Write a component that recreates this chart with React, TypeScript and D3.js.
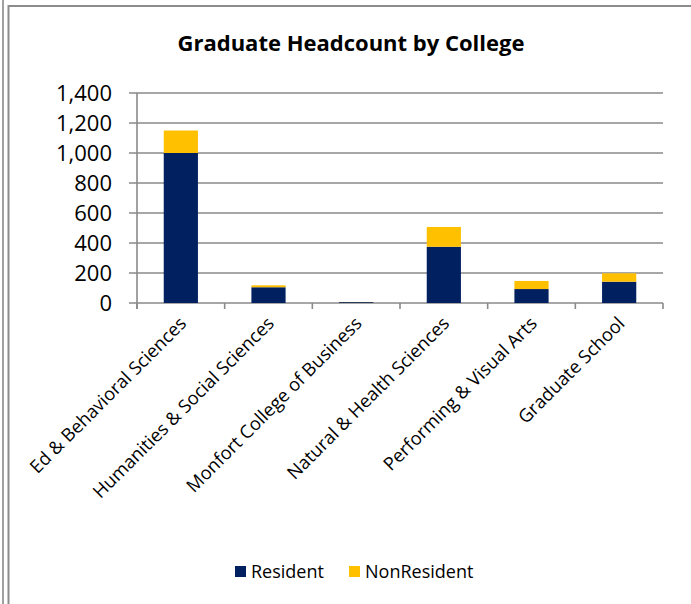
import { useRef, useEffect } from "react"
import * as d3 from "d3"

const colleges = [
  "Ed & Behavioral Sciences",
  "Humanities & Social Sciences",
  "Monfort College of Business",
  "Natural & Health Sciences",
  "Performing & Visual Arts",
  "Graduate School",
]
const resident = [1000, 105, 6, 375, 93, 142]
const nonResident = [150, 13, 1, 132, 54, 56]
const yTicks = [0, 200, 400, 600, 800, 1000, 1200, 1400]
const seriesNames = ["Resident", "NonResident"]
const seriesColors = ["#002060", "#FFC000"]

const W = 691
const H = 604
const FONT = "Open Sans, Liberation Sans, sans-serif"

export default function App() {
  const svgRef = useRef<SVGSVGElement>(null)

  useEffect(() => {
    if (!svgRef.current) return
    const svg = d3.select(svgRef.current)
    svg.selectAll("*").remove()

    // frame
    svg.append("rect").attr("width", W).attr("height", H).attr("fill", "#fff")
    svg.append("line").attr("x1", 3).attr("x2", 3).attr("y1", 0).attr("y2", H)
      .attr("stroke", "#a0a0a0").attr("stroke-width", 2)
    svg.append("line").attr("x1", 8.5).attr("x2", 8.5).attr("y1", 5).attr("y2", H)
      .attr("stroke", "#8c8c8c").attr("stroke-width", 2)
    svg.append("line").attr("x1", 8).attr("x2", W).attr("y1", 6).attr("y2", 6)
      .attr("stroke", "#8c8c8c").attr("stroke-width", 2)

    const left = 137, right = 663, top = 93, bottom = 303

    const x = d3.scaleBand().domain(colleges).range([left, right]).paddingInner(0.61).paddingOuter(0.305)
    const y = d3.scaleLinear().domain([0, 1400]).range([bottom, top])

    // gridlines
    svg.append("g").selectAll("line").data(yTicks).join("line")
      .attr("x1", left - 8).attr("x2", right)
      .attr("y1", (d) => y(d)).attr("y2", (d) => y(d))
      .attr("stroke", "#8a8a8a").attr("stroke-width", 1.6)

    // y axis line
    svg.append("line").attr("x1", left).attr("x2", left).attr("y1", top).attr("y2", bottom + 6)
      .attr("stroke", "#8a8a8a").attr("stroke-width", 1.6)

    const fmt = d3.format(",")
    svg.append("g").selectAll("text").data(yTicks).join("text")
      .attr("x", 112).attr("y", (d) => y(d)).attr("dy", "0.36em")
      .attr("text-anchor", "end").attr("font-family", FONT).attr("font-size", 22)
      .attr("fill", "#000").text((d) => fmt(d))

    // category ticks
    const step = x.step()
    const bounds = d3.range(colleges.length + 1).map((i) => left + i * step)
    svg.append("g").selectAll("line").data(bounds).join("line")
      .attr("x1", (d) => d).attr("x2", (d) => d).attr("y1", bottom).attr("y2", bottom + 6)
      .attr("stroke", "#8a8a8a").attr("stroke-width", 1.6)

    // stacked bars
    const rows = colleges.map((c, i) => ({ college: c, Resident: resident[i], NonResident: nonResident[i] }))
    const stack = d3.stack<any>().keys(seriesNames)(rows)
    svg.append("g").selectAll("g").data(stack).join("g")
      .attr("fill", (_d, i) => seriesColors[i])
      .selectAll("rect").data((d) => d).join("rect")
      .attr("x", (d) => x(d.data.college)!)
      .attr("width", x.bandwidth())
      .attr("y", (d) => y(d[1]))
      .attr("height", (d) => y(d[0]) - y(d[1]))

    // category labels
    svg.append("g").selectAll("text").data(colleges).join("text")
      .attr("transform", (d) => `translate(${x(d)! + x.bandwidth() / 2 + 2},${bottom + 17}) rotate(-45)`)
      .attr("text-anchor", "end").attr("dy", "0.36em")
      .attr("font-family", FONT).attr("font-size", 18.3).attr("fill", "#000")
      .text((d) => d)

    // title
    svg.append("text").attr("x", 351).attr("y", 51).attr("text-anchor", "middle")
      .attr("font-family", FONT).attr("font-weight", "bold").attr("font-size", 22)
      .attr("fill", "#000").text("Graduate Headcount by College")

    // legend
    const legendX = [235, 349]
    const lg = svg.append("g").selectAll("g").data(seriesNames).join("g")
      .attr("transform", (_d, i) => `translate(${legendX[i]},566)`)
    lg.append("rect").attr("width", 11).attr("height", 11).attr("fill", (_d, i) => seriesColors[i])
    lg.append("text").attr("x", 16).attr("y", 5.5).attr("dy", "0.36em")
      .attr("font-family", FONT).attr("font-size", 18).attr("fill", "#000").text((d) => d)
  }, [])

  return (
    <svg
      ref={svgRef}
      width={W}
      height={H}
      viewBox={`0 0 ${W} ${H}`}
      style={{ position: "absolute", left: 0, top: 0 }}
    />
  )
}
